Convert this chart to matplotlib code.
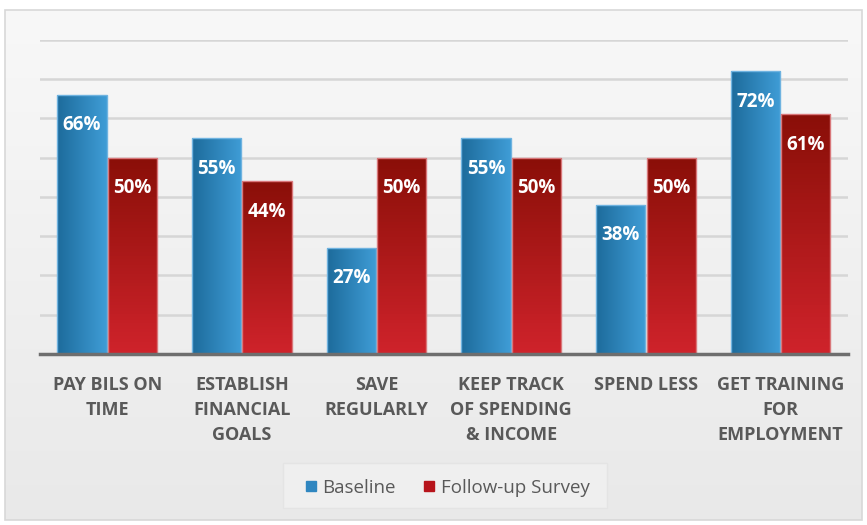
import numpy as np
import matplotlib.pyplot as plt
from matplotlib.patches import Rectangle
from matplotlib.colors import LinearSegmentedColormap

categories = ['PAY BILS ON\nTIME', 'ESTABLISH\nFINANCIAL\nGOALS', 'SAVE\nREGULARLY',
              'KEEP TRACK\nOF SPENDING\n& INCOME', 'SPEND LESS', 'GET TRAINING\nFOR\nEMPLOYMENT']
baseline = [66, 55, 27, 55, 38, 72]
followup = [50, 44, 50, 50, 50, 61]

plt.rcParams['font.family'] = ['Open Sans', 'DejaVu Sans']

fig = plt.figure(figsize=(8.67, 5.25), dpi=100)
fig.patch.set_facecolor('white')

# background panel with soft vertical gradient
bg = fig.add_axes([0, 0, 1, 1], zorder=-10)
bg.set_xlim(0, 1)
bg.set_ylim(0, 1)
bg.axis('off')
grad = np.linspace(0, 1, 256).reshape(-1, 1)
bg_cmap = LinearSegmentedColormap.from_list('bg', ['#e9e9e9', '#f8f8f8'])
panel = Rectangle((0.006, 0.0095), 0.988, 0.9715, transform=bg.transAxes,
                  facecolor='none', edgecolor='#d8d8d8', lw=1.2)
bg.add_patch(panel)
im = bg.imshow(grad, cmap=bg_cmap, origin='lower', extent=[0.006, 0.994, 0.0095, 0.981],
               aspect='auto')
im.set_clip_path(panel)
# legend box
bg.add_patch(Rectangle((0.326, 0.032), 0.374, 0.086, transform=bg.transAxes,
                       facecolor='#efefef', edgecolor='#e4e4e4', lw=1.0))

ax = fig.add_axes([0.046, 0.326, 0.932, 0.598])
ax.set_facecolor('none')

blue_cmap = LinearSegmentedColormap.from_list('blue', ['#1d6b9c', '#3f9dd6'])
red_cmap = LinearSegmentedColormap.from_list('red', ['#cf232b', '#8a0f08'])
hgrad = np.linspace(0, 1, 64).reshape(1, -1)
vgrad = np.linspace(0, 1, 64).reshape(-1, 1)

x = np.arange(len(categories))
w = 0.365
off = 0.187

def grad_bars(xs, vals, cmap, data, edge):
    for xi, v in zip(xs, vals):
        r = Rectangle((xi - w / 2, 0), w, v, facecolor='none', edgecolor=edge, lw=1.0, zorder=3)
        ax.add_patch(r)
        g = ax.imshow(data, cmap=cmap, origin='lower', extent=[xi - w / 2, xi + w / 2, 0, v],
                      aspect='auto', zorder=2)
        g.set_clip_path(r)
        ax.annotate(f'{v}%', (xi, v), xytext=(0, -22), textcoords='offset points',
                    ha='center', va='center', color='white', fontsize=13.5,
                    fontweight='bold', zorder=4)

grad_bars(x - off, baseline, blue_cmap, hgrad, '#6fb3e0')
grad_bars(x + off, followup, red_cmap, vgrad, '#d9777a')

ax.set_xlim(-0.5, len(categories) - 0.5)
ax.set_ylim(0, 80)
ax.set_yticks(np.arange(10, 81, 10))
ax.yaxis.grid(True, color='#d6d6d6', lw=1.8)
ax.set_axisbelow(True)
ax.tick_params(axis='y', left=False, labelleft=False)
ax.tick_params(axis='x', length=0, pad=16)
for s in ['top', 'right', 'left']:
    ax.spines[s].set_visible(False)
ax.spines['bottom'].set_color('#6e6e6e')
ax.spines['bottom'].set_linewidth(2.5)
ax.spines['bottom'].set_zorder(5)
ax.set_xticks(x)
ax.set_xticklabels(categories, fontsize=13, fontweight='bold', color='#595959',
                   linespacing=1.5, va='top')

h1 = plt.Line2D([], [], marker='s', ls='none', color='#2f86c0', markersize=7)
h2 = plt.Line2D([], [], marker='s', ls='none', color='#b7141b', markersize=7)
leg = fig.legend([h1, h2], ['Baseline', 'Follow-up Survey'], loc='center',
                 bbox_to_anchor=(0.516, 0.071), ncol=2, frameon=False, fontsize=13.5,
                 handlelength=0.6, handletextpad=0.3, columnspacing=1.5,
                 borderpad=0, borderaxespad=0)
for t in leg.get_texts():
    t.set_color('#595959')

fig.savefig('out.png', dpi=100)
